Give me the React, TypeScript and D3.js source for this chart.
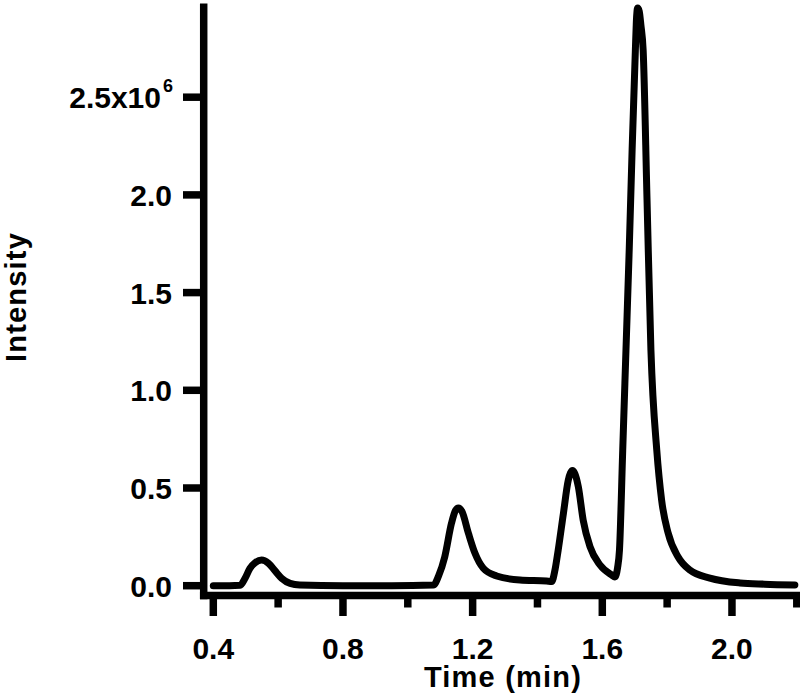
import React from 'react';
import * as d3 from 'd3';

// retention time (min) and intensity (x10^6)
const times = [
    0.40, 0.45, 0.483, 0.498, 0.513, 0.529, 0.549, 0.570, 0.590, 0.611, 0.637, 0.667, 0.80, 0.95, 1.079,
    1.095, 1.114, 1.135, 1.147, 1.156, 1.167, 1.187, 1.207, 1.233, 1.274, 1.346, 1.428,
    1.444, 1.454, 1.464, 1.48, 1.495, 1.502, 1.508, 1.515, 1.526, 1.541, 1.562, 1.593, 1.629, 1.639,
    1.647, 1.653, 1.663, 1.673, 1.683, 1.692, 1.702, 1.705, 1.709, 1.714, 1.719, 1.726,
    1.738, 1.750, 1.768, 1.783, 1.803, 1.834, 1.870, 1.932, 2.025, 2.10, 2.194
];
const intensity = [
    0.0, 0.0, 0.002, 0.038, 0.089, 0.118, 0.131, 0.115, 0.077, 0.038, 0.012, 0.004, 0.0, 0.0, 0.003,
    0.05, 0.148, 0.321, 0.385, 0.398, 0.38, 0.268, 0.167, 0.089, 0.050, 0.029, 0.024,
    0.022, 0.08, 0.183, 0.37, 0.54, 0.578, 0.59, 0.575, 0.507, 0.336, 0.20, 0.106, 0.055, 0.045,
    0.091, 0.183, 0.694, 1.206, 1.718, 2.23, 2.741, 2.885, 2.957, 2.94, 2.87, 2.741,
    1.973, 1.206, 0.694, 0.438, 0.27, 0.147, 0.08, 0.039, 0.014, 0.008, 0.004
];

const majorX = [0.4, 0.8, 1.2, 1.6, 2.0];
const minorX = [0.6, 1.0, 1.4, 1.8, 2.2];
const yTicks = [0, 0.5, 1.0, 1.5, 2.0, 2.5];
const yTickLabels = ['0.0', '0.5', '1.0', '1.5', '2.0', '2.5x10'];

const App = () => {
    const width = 800;
    const height = 700;

    const x = d3.scaleLinear().domain([0.4, 2.2]).range([213.3, 796.8]);
    const y = d3.scaleLinear().domain([0, 2.98]).range([585.7, 3.4]);

    const axisX = 203.7;  // y axis sits left of t=0.4
    const axisY = 595.5;  // x axis sits below zero
    const thick = 7.5;

    const pts = times.map((t, i) => [t, intensity[i]] as [number, number]);
    const line = d3.line<[number, number]>()
        .x(d => x(d[0]))
        .y(d => y(d[1]))
        .curve(d3.curveMonotoneX);

    const font = { fontFamily: 'Liberation Sans, Arial, sans-serif', fontWeight: 'bold' as const, fill: '#000' };

    return (
        <svg width={width} height={height} style={{ position: 'absolute', left: 0, top: 0, background: '#fff' }}>
            {/* axes */}
            <line x1={axisX} x2={axisX} y1={y(2.98)} y2={axisY + thick / 2} stroke="#000" strokeWidth={thick} />
            <line x1={axisX - thick / 2} x2={x(2.2) + thick / 2} y1={axisY} y2={axisY} stroke="#000" strokeWidth={thick} />

            {majorX.map(t => (
                <g key={'M' + t}>
                    <line x1={x(t)} x2={x(t)} y1={axisY} y2={616} stroke="#000" strokeWidth={thick} />
                    <text x={x(t)} y={659} textAnchor="middle" fontSize={30} {...font}>{t.toFixed(1)}</text>
                </g>
            ))}
            {minorX.map(t => (
                <line key={'m' + t} x1={x(t)} x2={x(t)} y1={axisY} y2={607.5} stroke="#000" strokeWidth={thick} />
            ))}

            {yTicks.map((v, i) => (
                <g key={'y' + v}>
                    <line x1={183} x2={axisX} y1={y(v)} y2={y(v)} stroke="#000" strokeWidth={thick} />
                    {i < yTicks.length - 1 ? (
                        <text x={172} y={y(v) + 11} textAnchor="end" fontSize={30} {...font}>{yTickLabels[i]}</text>
                    ) : (
                        <text x={173} y={y(v) + 11} textAnchor="end" fontSize={30} {...font}>
                            {yTickLabels[i]}
                            <tspan fontSize={18} dx={2} dy={-16}>6</tspan>
                        </text>
                    )}
                </g>
            ))}

            <text x={503} y={687} textAnchor="middle" fontSize={29} letterSpacing={1.2} {...font}>Time (min)</text>
            <text transform="translate(26,297) rotate(-90)" textAnchor="middle" fontSize={29} letterSpacing={1.2} {...font}>Intensity</text>

            <path d={line(pts) || ''} fill="none" stroke="#000" strokeWidth={7} strokeLinejoin="round" strokeLinecap="round" />
        </svg>
    );
};

export default App;
